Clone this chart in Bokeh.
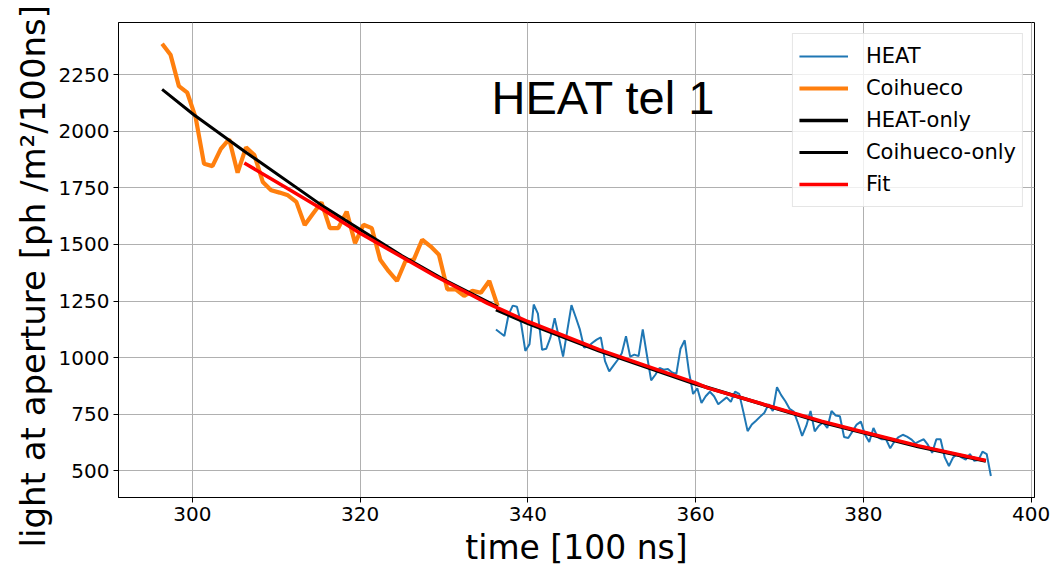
from bokeh.plotting import figure
from bokeh.models import Label, FixedTicker, Title
from bokeh.embed import file_html
from bokeh.resources import INLINE

# ---------------- data ----------------
# Coihueco (orange), one bin per 100 ns
coihueco_t0 = 296.4
coihueco_dt = 1.0
coihueco_y = [2386, 2338, 2199, 2170, 2060, 1856, 1846, 1922, 1965, 1817,
              1929, 1895, 1776, 1739, 1729, 1717, 1688, 1586, 1637, 1686,
              1572, 1572, 1645, 1506, 1587, 1572, 1433, 1382, 1339, 1426,
              1433, 1521, 1492, 1455, 1302, 1302, 1273, 1295, 1287, 1339,
              1229]

# HEAT (blue), one bin per 50 ns
heat_t0 = 336.2
heat_dt = 0.5
heat_y = [1125, 1110, 1096, 1190, 1230, 1225, 1150, 1030, 1060, 1235,
          1195, 1035, 1040, 1090, 1175, 1090, 1005, 1120, 1232,
          1180, 1125, 1045, 1050, 1066, 1080, 1090,
          985, 940, 965, 990, 1020, 1095, 1005, 1014, 1007, 1125,
          1010, 900, 925, 955, 947, 950, 935, 928, 1040, 1077,
          940, 840, 865, 800, 830, 850,
          830, 795, 810, 825, 805, 850, 840, 760, 676, 705,
          722, 740, 757, 795, 765, 870, 835, 808, 775, 762,
          712, 655, 700, 765, 675, 700, 715,
          690, 765, 745, 742, 650, 646, 675, 705, 718, 660,
          628, 690, 650, 640, 640, 600, 630, 650, 660, 652,
          640, 622, 632,
          640, 615, 580, 640, 640, 560, 522, 560, 575, 560,
          550, 575, 545, 548, 585, 575, 478]

# fitted curves
coi_only_t = [296.4, 300.1, 306.2, 315.7, 325.0, 330.0, 336.4]
coi_only_y = [2185, 2075, 1912, 1666, 1450, 1345, 1225]

heat_only_t = [336.2, 340.0, 348.5, 360.0, 375.0, 386.5, 394.6]
heat_only_y = [1212, 1152, 1030, 884, 716, 608, 544]

fit_t = [306.2, 311.2, 315.7, 320.0, 329.0, 335.2, 340.0, 348.5, 360.0,
         361.5, 375.0, 380.0, 386.5, 394.6]
fit_y = [1860, 1750, 1651, 1550, 1360, 1240, 1160, 1036, 889,
         866, 720, 672, 612, 546]

x_ticks = [300, 320, 340, 360, 380, 400]
y_ticks = [500, 750, 1000, 1250, 1500, 1750, 2000, 2250]

coihueco_t = [coihueco_t0 + coihueco_dt * i for i in range(len(coihueco_y))]
heat_t = [heat_t0 + heat_dt * i for i in range(len(heat_y))]

# ---------------- figure ----------------
p = figure(width=1052, height=569, x_range=(291.2, 400.4), y_range=(383, 2480),
           output_backend="svg", toolbar_location=None,
           min_border_left=118, min_border_right=18,
           min_border_top=22, min_border_bottom=68)
p.background_fill_color = "white"
p.border_fill_color = "white"
p.outline_line_color = "black"
p.outline_line_width = 1

p.line(heat_t, heat_y, line_color="#1f77b4", line_width=2, legend_label="HEAT")
p.line(coihueco_t, coihueco_y, line_color="#ff7f0e", line_width=4.2, legend_label="Coihueco")
p.line(heat_only_t, heat_only_y, line_color="black", line_width=3.5, legend_label="HEAT-only")
p.line(coi_only_t, coi_only_y, line_color="black", line_width=3, legend_label="Coihueco-only")
p.line(fit_t, fit_y, line_color="red", line_width=3.5, legend_label="Fit")

p.add_layout(Label(x=349, y=2150, text="HEAT tel 1", text_font="Liberation Sans",
                   text_font_size="47px", text_color="black",
                   text_align="center", text_baseline="middle"))

# y-axis title as a side-panel title (lets it sit like the reference)
ytitle = Title(text="light at aperture [ph /m\u00b2/100ns]", align="left", offset=-50,
               text_font="DejaVu Sans", text_font_size="34px",
               text_font_style="normal", text_color="black", standoff=6)
p.add_layout(ytitle, "left")

p.xaxis.ticker = FixedTicker(ticks=x_ticks)
p.yaxis.ticker = FixedTicker(ticks=y_ticks)
p.xaxis.axis_label = "time [100 ns]"

for ax in (p.xaxis[0], p.yaxis[0]):
    ax.axis_label_text_font = "DejaVu Sans"
    ax.axis_label_text_font_size = "33px"
    ax.axis_label_text_font_style = "normal"
    ax.axis_label_text_color = "black"
    ax.major_label_text_font = "DejaVu Sans"
    ax.major_label_text_font_size = "20px"
    ax.major_label_text_color = "black"
    ax.axis_line_color = "black"
    ax.major_tick_line_color = "black"
    ax.major_tick_out = 5
    ax.major_tick_in = 0
    ax.minor_tick_line_color = None
    ax.major_label_standoff = 4
    ax.axis_label_standoff = 4

p.grid.grid_line_color = "#b0b0b0"
p.grid.grid_line_width = 1

lg = p.legend[0]
lg.location = "top_right"
lg.margin = 11
lg.padding = 6
lg.spacing = 0
lg.label_text_font = "DejaVu Sans"
lg.label_text_font_size = "21px"
lg.label_text_color = "black"
lg.label_height = 32
lg.glyph_height = 32
lg.glyph_width = 49
lg.label_standoff = 18
lg.border_line_color = "#cccccc"
lg.border_line_width = 1
lg.background_fill_color = "white"
lg.background_fill_alpha = 0.8

open("out.html", "w").write(file_html(p, INLINE))
